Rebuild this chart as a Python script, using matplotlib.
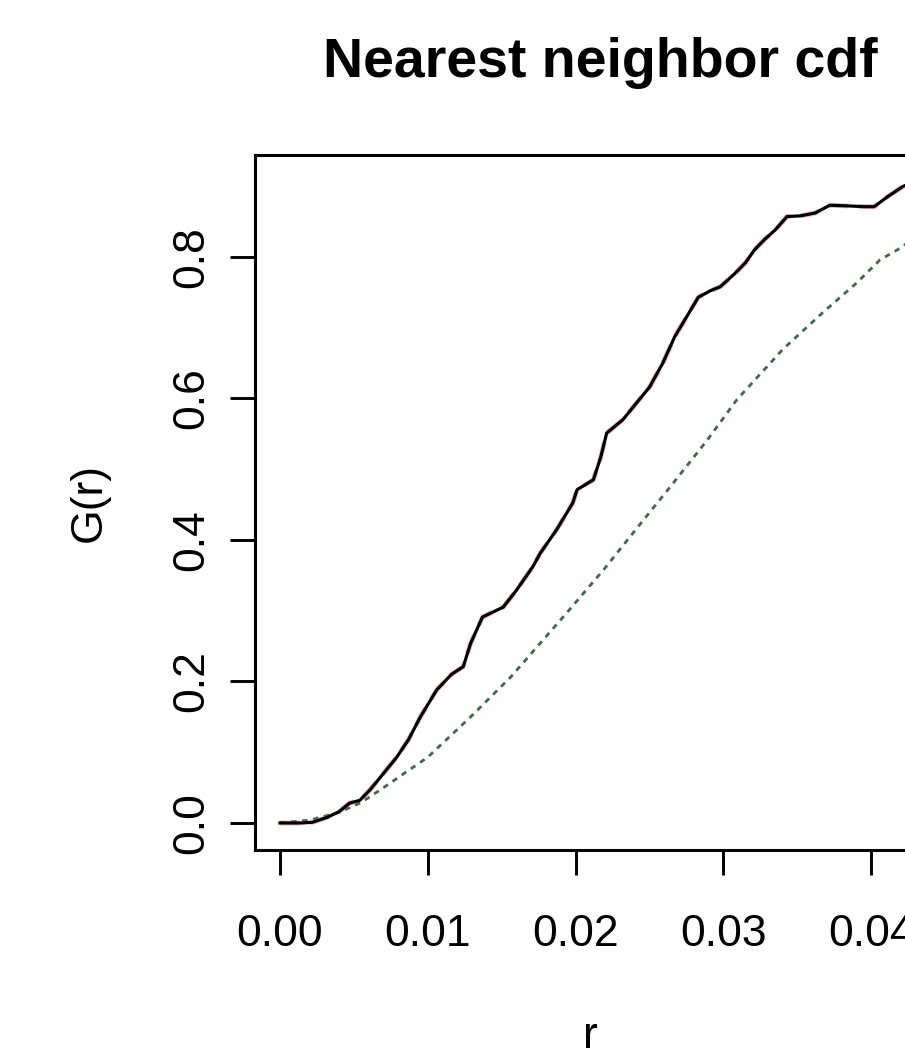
import numpy as np
import matplotlib
matplotlib.use("Agg")
import matplotlib.pyplot as plt

plt.rcParams['font.family'] = ['Liberation Sans', 'DejaVu Sans']

r_obs = [0.0, 0.0015, 0.0022, 0.0032, 0.0040, 0.0047, 0.0054, 0.0061, 0.0070,
         0.0079, 0.0087, 0.0095, 0.0106, 0.0116, 0.0124, 0.0129, 0.0137, 0.0151,
         0.0160, 0.0171, 0.0176, 0.0187, 0.0198, 0.0201, 0.0212, 0.0217, 0.0221,
         0.0232, 0.0239, 0.0250, 0.0259, 0.0267, 0.0275, 0.0283, 0.0291, 0.0298,
         0.0308, 0.0315, 0.0321, 0.0328, 0.0335, 0.0343, 0.0352, 0.0362, 0.0372,
         0.0385, 0.0395, 0.0402, 0.0411, 0.0421, 0.0430]
G_obs = [0.0, 0.0, 0.001, 0.008, 0.016, 0.028, 0.032, 0.047, 0.070,
         0.093, 0.118, 0.150, 0.188, 0.210, 0.221, 0.254, 0.291, 0.305,
         0.329, 0.362, 0.381, 0.414, 0.452, 0.471, 0.485, 0.517, 0.551,
         0.570, 0.588, 0.616, 0.650, 0.687, 0.715, 0.743, 0.752, 0.758,
         0.777, 0.792, 0.810, 0.825, 0.838, 0.857, 0.858, 0.862, 0.873,
         0.872, 0.871, 0.871, 0.885, 0.899, 0.908]

# theoretical (Poisson) curve
r_theo = [0.0, 0.0020, 0.0040, 0.0055, 0.0068, 0.0100, 0.0129, 0.0156, 0.0194,
          0.0219, 0.0242, 0.0264, 0.0289, 0.0309, 0.0340, 0.0367, 0.0390, 0.0406,
          0.0421, 0.0430]
G_theo = [0.0, 0.004, 0.015, 0.029, 0.047, 0.093, 0.150, 0.206, 0.297,
          0.358, 0.418, 0.475, 0.541, 0.598, 0.669, 0.721, 0.763, 0.796,
          0.814, 0.830]

x_ticks = [0.00, 0.01, 0.02, 0.03, 0.04]
y_ticks = [0.0, 0.2, 0.4, 0.6, 0.8]

fig = plt.figure(figsize=(9.05, 10.53), dpi=100)
ax = fig.add_axes([255/905, 203/1053, 681/905, 695/1053])

ax.plot(r_theo, G_theo, color='#3d6b45', lw=2.0, linestyle=(0, (2.0, 2.0)))
ax.plot(r_obs, G_obs, color='#e06070', lw=3.6, linestyle=(0, (4, 2)), alpha=0.45)
ax.plot(r_obs, G_obs, color='black', lw=2.3)

ax.set_xlim(-0.00169, 0.04438)
ax.set_ylim(-0.0382, 0.944)

ax.set_xticks(x_ticks, ['%.2f' % v for v in x_ticks])
ax.set_yticks(y_ticks, ['%.1f' % v for v in y_ticks])
ax.tick_params(axis='both', direction='out', length=18, width=2.1, labelsize=32)
ax.tick_params(axis='x', pad=28)
ax.tick_params(axis='y', pad=13)
for lab in ax.get_yticklabels():
    lab.set_rotation(90)
    lab.set_va('center')

for sp in ax.spines.values():
    sp.set_linewidth(2.2)

ax.set_title('Nearest neighbor cdf', fontsize=40, fontweight='bold', pad=0,
             x=(600 - 255) / 681, y=(850 - 77) / 695)
ax.set_xlabel('r', fontsize=32)
ax.xaxis.label.set_va('baseline')
ax.xaxis.set_label_coords((590 - 255) / 681, -(1048 - 850) / 695)
ax.set_ylabel('G(r)', fontsize=32)
ax.yaxis.set_label_coords((110 - 255) / 681, 0.5)

fig.savefig('out.png', dpi=100)
